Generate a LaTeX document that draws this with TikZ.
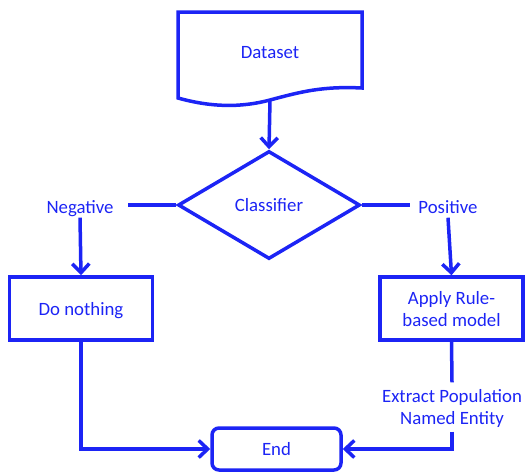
\documentclass[tikz,border=0pt]{standalone}
\usepackage{fontspec}
\setmainfont{Carlito}
\usetikzlibrary{shapes.geometric, arrows.meta}

\definecolor{flowBlue}{RGB}{28,36,245}

\begin{document}
\begin{tikzpicture}[x=1pt, y=-1pt, >={Straight Barb[length=9pt, width=17pt]},
    every node/.style={font=\fontsize{18.8}{22}\selectfont, text=flowBlue, text depth=0pt},
    flowLine/.style={line width=3.5pt, draw=flowBlue, line join=miter},
    boxStyle/.style={flowLine, rectangle, minimum width=143pt, minimum height=63pt, align=center},
    labelStyle/.style={inner xsep=10pt, inner ysep=4pt, align=center}]

    \useasboundingbox (0,0) rectangle (526,472);

    % --- 1. データ（書類形） ---
    \draw[flowLine] (178,98) -- (178,12) -- (362,12) -- (362,88)
        .. controls (322,86) and (300,92) .. (270,100)
        .. controls (240,108) and (210,107) .. (178,98) -- cycle;
    \node (data) at (270,52) {Dataset};
    \coordinate (dataBot) at (270,100);

    % --- 2. 分類器（ひし形）と分岐ラベル ---
    \node[flowLine, diamond, minimum width=182pt, minimum height=108pt, inner sep=0pt]
        (cls) at (269,205) {Classifier};
    \node[labelStyle] (neg) at (80,207) {Negative};
    \node[labelStyle] (pos) at (448,207) {Positive};
    \coordinate (negEnd) at (128,205);
    \coordinate (posEnd) at (410,205);

    % --- 3. 処理ボックス ---
    \node[boxStyle] (doNothing) at (81,308.5) {Do nothing};
    \node[boxStyle] (apply) at (451.5,308.5) {Apply Rule-\\based model};
    \node[labelStyle, inner ysep=7pt] (extract) at (452,407) {Extract Population\\Named Entity};
    \node[flowLine, rectangle, rounded corners=7pt, minimum width=129pt, minimum height=42pt]
        (endNode) at (276.5,449) {End};

    % --- 4. 接続線 ---
    \draw[flowLine, ->] (dataBot) -- (cls.north);
    \draw[flowLine] (cls.west) -- (negEnd);
    \draw[flowLine] (cls.east) -- (posEnd);
    \draw[flowLine, ->] (neg.south) -- (doNothing.north);
    \draw[flowLine, ->] (pos.south) -- (apply.north);
    \draw[flowLine] (apply.south) -- (extract.north);
    \draw[flowLine, ->] (doNothing.south) |- (endNode.west);
    \draw[flowLine, ->] (extract.south) |- (endNode.east);

\end{tikzpicture}
\end{document}
